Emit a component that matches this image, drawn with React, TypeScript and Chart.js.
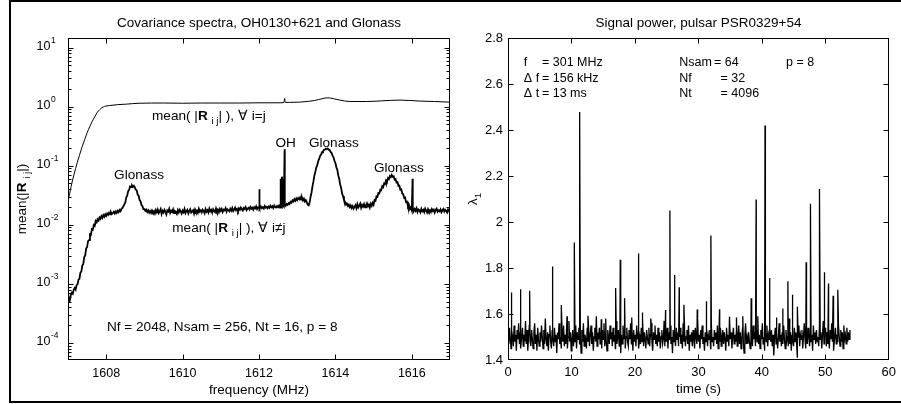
import React, { useEffect, useRef } from 'react';
import { Chart, registerables } from 'chart.js';

Chart.register(...registerables);

const FONT = '"Liberation Sans", Arial, Helvetica, sans-serif';

// ---------------- Left panel: covariance spectra ----------------
const CHANNEL_START_MHZ = 1607;
const CHANNEL_STEP_MHZ = 0.025;

// mean(|R_ij|), i != j  (one value per channel)
const offDiagMean = [
  0.00050, 0.00058, 0.00054, 0.00066, 0.00071, 0.00068, 0.00079, 0.00085, 0.00080, 0.00095,
  0.00098, 0.00118, 0.00122, 0.00155, 0.00162, 0.00204, 0.00218, 0.00285, 0.00301, 0.00395,
  0.0042, 0.0053, 0.0055, 0.0069, 0.0068, 0.0084, 0.0082, 0.0099, 0.0096, 0.0116,
  0.0110, 0.0124, 0.0118, 0.0133, 0.0126, 0.0140, 0.0131, 0.0146, 0.0137, 0.0150,
  0.0141, 0.0155, 0.0147, 0.0160, 0.0150, 0.0163, 0.0152, 0.0158, 0.0166, 0.0155,
  0.0168, 0.0159, 0.0172, 0.0163, 0.0178, 0.0170, 0.0186, 0.0192, 0.0206, 0.0221,
  0.0238, 0.0290, 0.0312, 0.0372, 0.0389, 0.0445, 0.0432, 0.0465, 0.0440, 0.0458,
  0.0428, 0.0392, 0.0381, 0.0322, 0.0310, 0.0262, 0.0248, 0.0214, 0.0206, 0.0183,
  0.0185, 0.0172, 0.0180, 0.0165, 0.0176, 0.0160, 0.0171, 0.0158, 0.0174, 0.0162,
  0.0170, 0.0155, 0.0178, 0.0163, 0.0181, 0.0158, 0.0169, 0.0184, 0.0152, 0.0172,
  0.0161, 0.0179, 0.0166, 0.0150, 0.0175, 0.0168, 0.0187, 0.0159, 0.0173, 0.0164,
  0.0182, 0.0157, 0.0171, 0.0166, 0.0153, 0.0177, 0.0162, 0.0180, 0.0168, 0.0155,
  0.0174, 0.0163, 0.0185, 0.0158, 0.0170, 0.0179, 0.0156, 0.0172, 0.0183, 0.0161,
  0.0168, 0.0176, 0.0154, 0.0181, 0.0165, 0.0172, 0.0159, 0.0186, 0.0167, 0.0175,
  0.0162, 0.0180, 0.0170, 0.0157, 0.0184, 0.0166, 0.0176, 0.0161, 0.0188, 0.0169,
  0.0178, 0.0160, 0.0183, 0.0171, 0.0164, 0.0189, 0.0168, 0.0179, 0.0163, 0.0185,
  0.0172, 0.0186, 0.0165, 0.0180, 0.0175, 0.0191, 0.0167, 0.0183, 0.0176, 0.0169,
  0.0187, 0.0174, 0.0192, 0.0170, 0.0181, 0.0195, 0.0176, 0.0185, 0.0171, 0.0190,
  0.0179, 0.0196, 0.0183, 0.0174, 0.0193, 0.0185, 0.0199, 0.0177, 0.0188, 0.0194,
  0.0182, 0.0201, 0.0187, 0.0195, 0.0180, 0.0198, 0.0190, 0.0205, 0.0184, 0.0197,
  0.0193, 0.0186, 0.0204, 0.0191, 0.0199, 0.0188, 0.0207, 0.0195, 0.0201, 0.0190,
  0.0203, 0.0194, 0.0210, 0.0198, 0.0206, 0.0192, 0.0212, 0.0200, 0.0196, 0.0208,
  0.0199, 0.0211, 0.0195, 0.0214, 0.0202, 0.0217, 0.0205, 0.0220, 0.0209, 0.0225,
  0.0218, 0.0232, 0.0224, 0.0245, 0.0236, 0.0258, 0.0247, 0.0270, 0.0255, 0.0279,
  0.0262, 0.0284, 0.0270, 0.0291, 0.0266, 0.0288, 0.0259, 0.0276, 0.0248, 0.0262,
  0.0242, 0.0218, 0.0213, 0.0238, 0.0296, 0.0352, 0.0447, 0.0541, 0.0680, 0.0788,
  0.0935, 0.1020, 0.1200, 0.1300, 0.1460, 0.1540, 0.1690, 0.1740, 0.1850, 0.1860,
  0.1940, 0.1910, 0.1950, 0.1870, 0.1840, 0.1710, 0.1640, 0.1480, 0.1390, 0.1210,
  0.1110, 0.0940, 0.0850, 0.0690, 0.0600, 0.0480, 0.0420, 0.0340, 0.0305, 0.0262,
  0.0246, 0.0221, 0.0230, 0.0208, 0.0219, 0.0199, 0.0213, 0.0192, 0.0206, 0.0188,
  0.0201, 0.0215, 0.0190, 0.0222, 0.0196, 0.0210, 0.0228, 0.0193, 0.0217, 0.0203,
  0.0224, 0.0198, 0.0212, 0.0231, 0.0205, 0.0219, 0.0196, 0.0226, 0.0209, 0.0235,
  0.0218, 0.0262, 0.0255, 0.0302, 0.0296, 0.0345, 0.0338, 0.0392, 0.0385, 0.0448,
  0.0432, 0.0501, 0.0489, 0.0562, 0.0538, 0.0615, 0.0590, 0.0668, 0.0642, 0.0700,
  0.0648, 0.0661, 0.0582, 0.0594, 0.0520, 0.0530, 0.0455, 0.0460, 0.0392, 0.0398,
  0.0338, 0.0330, 0.0285, 0.0290, 0.0242, 0.0246, 0.0205, 0.0216, 0.0184, 0.0197,
  0.0176, 0.0192, 0.0169, 0.0185, 0.0172, 0.0190, 0.0164, 0.0181, 0.0175, 0.0162,
  0.0186, 0.0170, 0.0179, 0.0163, 0.0188, 0.0174, 0.0160, 0.0183, 0.0168, 0.0177,
  0.0165, 0.0184, 0.0171, 0.0180, 0.0161, 0.0178, 0.0187, 0.0166, 0.0175, 0.0169,
  0.0182, 0.0163, 0.0176, 0.0185, 0.0167, 0.0179, 0.0172, 0.0161, 0.0181, 0.0170,
  0.0174,
];

// narrow-band lines (OH maser and interference) in the i != j spectrum
const offDiagLineFreq = [1612.0, 1612.56, 1612.6, 1612.62, 1612.67, 1616.02];
const offDiagLineValue = [0.04, 0.06, 0.065, 0.055, 0.19, 0.06];

// mean(|R_ij|), i = j
const diagFreq = [
  1607.0, 1607.04, 1607.08, 1607.12, 1607.16, 1607.2, 1607.24, 1607.3, 1607.37, 1607.44,
  1607.5, 1607.57, 1607.63, 1607.7, 1607.76, 1607.83, 1607.89, 1607.96, 1608.08, 1608.3,
  1608.52, 1608.86, 1609.5, 1610.0, 1610.5, 1611.0, 1611.5, 1612.0, 1612.5, 1612.65,
  1612.67, 1612.69, 1612.8, 1613.06, 1613.3, 1613.46, 1613.65, 1613.8, 1613.95, 1614.11,
  1614.38, 1614.82, 1615.2, 1615.69, 1616.21, 1616.6, 1617.0,
];
const diagMean = [
  0.025, 0.033, 0.044, 0.057, 0.072, 0.09, 0.112, 0.15, 0.209, 0.28,
  0.361, 0.46, 0.556, 0.67, 0.79, 0.89, 0.96, 1.01, 1.04, 1.08,
  1.1, 1.14, 1.15, 1.14, 1.15, 1.15, 1.15, 1.16, 1.16, 1.17,
  1.37, 1.18, 1.18, 1.19, 1.23, 1.27, 1.36, 1.41, 1.36, 1.29,
  1.22, 1.22, 1.25, 1.29, 1.24, 1.22, 1.19,
];

const freqTicks = [1608, 1610, 1612, 1614, 1616];
const decadeTicks = [1e-4, 1e-3, 1e-2, 1e-1, 1, 10];
const decadeExponents = ['-4', '-3', '-2', '-1', '0', '1'];

// ---------------- Right panel: pulsar signal power ----------------
const SAMPLE_STEP_S = 0.12;
const lambdaBase = [
  1.52,1.47,1.54,1.49,1.45,1.53,1.50,1.46,1.55,1.48,1.51,1.44,1.53,1.49,1.56,
  1.47,1.52,1.45,1.50,1.54,1.46,1.51,1.48,1.57,1.47,1.53,1.44,1.50,1.55,1.48,
  1.46,1.53,1.49,1.45,1.52,1.56,1.47,1.51,1.44,1.54,1.49,1.46,1.52,1.48,1.55,
  1.50,1.45,1.53,1.47,1.58,1.49,1.46,1.52,1.44,1.51,1.55,1.48,1.45,1.53,1.50,
  1.46,1.54,1.48,1.51,1.43,1.52,1.49,1.56,1.47,1.50,1.45,1.53,1.48,1.55,1.46,
  1.51,1.47,1.54,1.45,1.50,1.57,1.48,1.52,1.44,1.49,1.53,1.46,1.51,1.48,1.55,
  1.45,1.52,1.49,1.54,1.47,1.50,1.43,1.53,1.48,1.56,1.46,1.51,1.49,1.45,1.54,
  1.48,1.53,1.46,1.51,1.55,1.47,1.52,1.44,1.50,1.54,1.48,1.59,1.46,1.52,1.49,
  1.54,1.47,1.50,1.45,1.53,1.49,1.56,1.46,1.51,1.48,1.44,1.53,1.50,1.47,1.55,
  1.49,1.52,1.46,1.54,1.48,1.51,1.45,1.57,1.47,1.50,1.53,1.46,1.52,1.43,1.51,
  1.47,1.55,1.49,1.52,1.45,1.50,1.54,1.48,1.46,1.53,1.49,1.56,1.47,1.51,1.44,
  1.53,1.48,1.51,1.46,1.55,1.49,1.52,1.45,1.50,1.47,1.54,1.48,1.58,1.46,1.52,
  1.49,1.45,1.53,1.50,1.47,1.54,1.46,1.51,1.56,1.48,1.44,1.52,1.49,1.55,1.47,
  1.51,1.46,1.54,1.48,1.52,1.45,1.50,1.53,1.47,1.49,1.57,1.46,1.51,1.48,1.54,
  1.45,1.52,1.49,1.55,1.47,1.50,1.43,1.53,1.48,1.51,1.46,1.54,1.49,1.52,1.46,
  1.50,1.54,1.47,1.51,1.45,1.56,1.48,1.52,1.46,1.50,1.53,1.47,1.55,1.44,1.51,
  1.48,1.52,1.46,1.53,1.49,1.45,1.54,1.50,1.47,1.58,1.48,1.51,1.45,1.53,1.49,
  1.55,1.47,1.50,1.44,1.52,1.48,1.54,1.46,1.51,1.49,1.53,1.45,1.56,1.48,1.50,
  1.46,1.53,1.49,1.52,1.47,1.55,1.45,1.51,1.48,1.54,1.46,1.50,1.53,1.47,1.52,
  1.49,1.44,1.54,1.48,1.51,1.46,1.57,1.49,1.52,1.45,1.50,1.54,1.47,1.51,1.48,
  1.53,1.46,1.50,1.55,1.47,1.52,1.45,1.49,1.54,1.48,1.43,1.51,1.56,1.47,1.50,
  1.47,1.52,1.48,1.45,1.53,1.50,1.46,1.55,1.49,1.52,1.46,1.54,1.48,1.59,1.47,
  1.51,1.45,1.53,1.49,1.56,1.47,1.50,1.44,1.52,1.48,1.55,1.46,1.51,1.49,1.54,
  1.48,1.53,1.46,1.51,1.42,1.50,1.54,1.47,1.52,1.45,1.49,1.56,1.48,1.51,1.46,
  1.52,1.47,1.55,1.49,1.45,1.53,1.48,1.50,1.46,1.58,1.47,1.52,1.44,1.51,1.49,
  1.46,1.54,1.48,1.52,1.47,1.41,1.50,1.55,1.46,1.51,1.49,1.53,1.45,1.50,1.56,
  1.49,1.45,1.52,1.47,1.54,1.50,1.46,1.53,1.48,1.51,1.44,1.55,1.49,1.52,1.47,
  1.53,1.48,1.50,1.46,1.55,1.49,1.52,1.45,1.51,1.57,1.47,1.50,1.54,1.46,1.52,
  1.47,1.51,1.45,1.53,1.49,1.56,1.48,1.52,1.44,1.50,1.54,1.47,1.51,1.48,1.55,
  1.50,1.46,1.53,1.48,1.52,1.45,1.55,1.49,1.51,1.47,1.54,1.48,1.52,1.49,1.53,
];

// individual pulses
const pulseTime = [
  0.52, 1.94, 3.41, 6.98, 8.4, 9.3, 10.45, 11.29, 12.6, 14.7, 15.4, 16.96, 17.69, 18.37,
  19.5, 20.52, 21.15, 22.5, 24.83, 25.51, 26.25, 26.98, 27.72, 29.82, 31.23, 31.97,
  33.33, 34.9, 36.0, 37.0, 38.32, 39.1, 40.5, 41.2, 42.3, 43.3, 44.1, 44.8, 45.6,
  46.98, 47.66, 49.08, 49.82, 50.5, 51.23, 51.97,
];
const pulseLambda = [
  1.694, 1.708, 1.701, 1.807, 1.639, 1.59, 1.911, 2.478, 1.592, 1.577, 1.58, 1.713, 1.836, 1.669,
  1.585, 1.863, 1.607, 1.58, 1.617, 2.05, 1.77, 1.716, 1.64, 1.62, 1.655, 1.941,
  1.621, 1.588, 1.585, 1.59, 1.668, 2.098, 2.42, 1.756, 1.585, 1.624, 1.742, 1.684, 1.631,
  1.825, 2.079, 2.144, 1.781, 1.733, 1.679, 1.705,
];

const timeTicks = [0, 10, 20, 30, 40, 50, 60];
const lambdaTicks = [1.4, 1.6, 1.8, 2, 2.2, 2.4, 2.6, 2.8];

// ---------------- text ----------------
type Seg = [string, '' | 'b' | 'sub'];
type Note = { segs: Seg[]; x: number; y: number; align: 'left' | 'center' };

const MEAN_EQ: Seg[] = [['mean( |', ''], ['R', 'b'], [' ', ''], ['i j', 'sub'], ['| ), \u2200 i=j', '']];
const MEAN_NE: Seg[] = [['mean( |', ''], ['R', 'b'], [' ', ''], ['i j', 'sub'], ['| ), \u2200 i\u2260j', '']];
const LEFT_YTITLE: Seg[] = [['mean(|', ''], ['R', 'b'], [' ', ''], ['i j', 'sub'], ['|)', '']];
const RIGHT_YTITLE: Seg[] = [['\u03bb', ''], ['1', 'sub']];

const leftNotes: Note[] = [
  { segs: [['Glonass', '']], x: 1608.86, y: 0.0698, align: 'center' },
  { segs: [['OH', '']], x: 1612.7, y: 0.244, align: 'center' },
  { segs: [['Glonass', '']], x: 1613.96, y: 0.244, align: 'center' },
  { segs: [['Glonass', '']], x: 1615.66, y: 0.0918, align: 'center' },
  { segs: MEAN_EQ, x: 1609.2, y: 0.689, align: 'left' },
  { segs: MEAN_NE, x: 1609.73, y: 0.00875, align: 'left' },
  { segs: [['Nf = 2048, Nsam = 256, Nt = 16, p = 8', '']], x: 1608.02, y: 1.81e-4, align: 'left' },
];

const rightNotes: Note[] = [
  { segs: [['f', '']], x: 2.5, y: 2.693, align: 'left' },
  { segs: [['= 301 MHz', '']], x: 5.35, y: 2.693, align: 'left' },
  { segs: [['\u0394 f', '']], x: 2.5, y: 2.625, align: 'left' },
  { segs: [['= 156 kHz', '']], x: 5.35, y: 2.625, align: 'left' },
  { segs: [['\u0394 t', '']], x: 2.5, y: 2.558, align: 'left' },
  { segs: [['= 13 ms', '']], x: 5.35, y: 2.558, align: 'left' },
  { segs: [['Nsam', '']], x: 27.0, y: 2.693, align: 'left' },
  { segs: [['= 64', '']], x: 32.45, y: 2.693, align: 'left' },
  { segs: [['Nf', '']], x: 27.0, y: 2.625, align: 'left' },
  { segs: [['= 32', '']], x: 33.5, y: 2.625, align: 'left' },
  { segs: [['Nt', '']], x: 27.0, y: 2.558, align: 'left' },
  { segs: [['= 4096', '']], x: 33.5, y: 2.558, align: 'left' },
  { segs: [['p = 8', '']], x: 43.8, y: 2.693, align: 'left' },
];

// ---------------- helpers ----------------
function segFont(kind: string, size: number) {
  if (kind === 'b') return `bold ${size}px ${FONT}`;
  if (kind === 'sub') return `${size * 0.72}px ${FONT}`;
  return `${size}px ${FONT}`;
}

function drawRich(ctx: CanvasRenderingContext2D, segs: Seg[], x: number, y: number, size: number, align: string) {
  let w = 0;
  const widths: number[] = [];
  for (const [t, k] of segs) {
    ctx.font = segFont(k, size);
    const m = ctx.measureText(t).width;
    widths.push(m);
    w += m;
  }
  let cx = align === 'center' ? x - w / 2 : align === 'right' ? x - w : x;
  ctx.textAlign = 'left';
  ctx.textBaseline = 'middle';
  segs.forEach(([t, k], i) => {
    ctx.font = segFont(k, size);
    ctx.fillText(t, cx, y + (k === 'sub' ? size * 0.4 : 0));
    cx += widths[i];
  });
}

function mergeSeries(start: number, step: number, vals: number[], xs: number[], ys: number[]) {
  const pts = vals.map((v, i) => ({ x: start + i * step, y: v }));
  xs.forEach((x, i) => pts.push({ x, y: ys[i] }));
  pts.sort((a, b) => a.x - b.x);
  return pts;
}

const deco = {
  id: 'deco',
  afterDraw(chart: any, _args: any, o: any) {
    const { ctx, chartArea: a } = chart;
    const xs = chart.scales.x;
    const ys = chart.scales.y;
    const L = Math.round(a.left) + 0.5;
    const R = Math.round(a.right) - 0.5;
    const T = Math.round(a.top) + 0.5;
    const B = Math.round(a.bottom) - 0.5;
    ctx.save();
    ctx.strokeStyle = '#000';
    ctx.lineWidth = 1;
    ctx.strokeRect(L, T, R - L, B - T);
    ctx.beginPath();
    for (const v of o.xTicks) {
      const p = Math.round(xs.getPixelForValue(v)) + 0.5;
      if (p <= L + 1 || p >= R - 1) continue;
      ctx.moveTo(p, B); ctx.lineTo(p, B - 5);
      ctx.moveTo(p, T); ctx.lineTo(p, T + 5);
    }
    for (const v of o.yTicks) {
      const p = Math.round(ys.getPixelForValue(v)) + 0.5;
      if (p <= T + 1 || p >= B - 1) continue;
      ctx.moveTo(L, p); ctx.lineTo(L + 5, p);
      ctx.moveTo(R, p); ctx.lineTo(R - 5, p);
    }
    if (o.logMinor) {
      for (const d of o.yTicks) {
        for (let m = 2; m <= 9; m++) {
          const val = d * m;
          if (val > ys.max) continue;
          const p = Math.round(ys.getPixelForValue(val)) + 0.5;
          if (p <= T + 1 || p >= B - 1) continue;
          ctx.moveTo(L, p); ctx.lineTo(L + 3, p);
          ctx.moveTo(R, p); ctx.lineTo(R - 3, p);
        }
      }
      for (let m = 6; m <= 9; m++) {
        const val = o.yTicks[0] / 10 * m;
        if (val < ys.min) continue;
        const p = Math.round(ys.getPixelForValue(val)) + 0.5;
        ctx.moveTo(L, p); ctx.lineTo(L + 3, p);
        ctx.moveTo(R, p); ctx.lineTo(R - 3, p);
      }
    }
    ctx.stroke();

    ctx.fillStyle = '#000';
    // log tick labels
    if (o.expLabels) {
      o.yTicks.forEach((v: number, i: number) => {
        const p = ys.getPixelForValue(v);
        ctx.font = `12.5px ${FONT}`;
        ctx.textAlign = 'right';
        ctx.textBaseline = 'middle';
        ctx.fillText('10', a.left - 17.5, p - 1);
        ctx.font = `8.5px ${FONT}`;
        ctx.textAlign = 'left';
        ctx.fillText(o.expLabels[i], a.left - 17, p - 7);
      });
    }
    // title
    ctx.font = `13.5px ${FONT}`;
    ctx.textAlign = 'center';
    ctx.textBaseline = 'middle';
    ctx.fillText(o.title, (a.left + a.right) / 2, a.top - 15);
    // x title
    ctx.fillText(o.xTitle, (a.left + a.right) / 2, a.bottom + o.xTitleGap);
    // y title
    ctx.save();
    ctx.translate(a.left - o.yTitleGap, (a.top + a.bottom) / 2);
    ctx.rotate(-Math.PI / 2);
    drawRich(ctx, o.yTitle, 0, 0, 13.5, 'center');
    ctx.restore();
    // notes
    for (const n of o.notes) {
      drawRich(ctx, n.segs, xs.getPixelForValue(n.x), ys.getPixelForValue(n.y), o.noteSize, n.align);
    }
    ctx.restore();
  },
};

function leftConfig(): any {
  return {
    type: 'line',
    data: {
      datasets: [
        {
          data: mergeSeries(CHANNEL_START_MHZ, CHANNEL_STEP_MHZ, offDiagMean, offDiagLineFreq, offDiagLineValue),
          borderColor: '#000', borderWidth: 1.8, pointRadius: 0, tension: 0,
        },
        {
          data: diagFreq.map((f, i) => ({ x: f, y: diagMean[i] })),
          borderColor: '#000', borderWidth: 1, pointRadius: 0, cubicInterpolationMode: 'monotone',
        },
      ],
    },
    options: {
      responsive: false,
      animation: false,
      events: [],
      layout: { padding: { top: 38, right: 5, left: 0, bottom: 0 } },
      plugins: {
        legend: { display: false },
        tooltip: { enabled: false },
        title: { display: false },
        deco: {
          xTicks: freqTicks, yTicks: decadeTicks, logMinor: true, expLabels: decadeExponents,
          title: 'Covariance spectra, OH0130+621 and Glonass',
          xTitle: 'frequency (MHz)', xTitleGap: 30.5,
          yTitle: LEFT_YTITLE, yTitleGap: 46,
          notes: leftNotes, noteSize: 13.6,
        },
      },
      scales: {
        x: {
          type: 'linear', min: 1607, max: 1617,
          afterBuildTicks: (s: any) => { s.ticks = freqTicks.map((v) => ({ value: v })); },
          afterFit: (s: any) => { s.height = 44; },
          grid: { display: false, drawTicks: false },
          border: { display: false },
          ticks: { color: '#000', font: { family: FONT, size: 12.5 }, padding: 6, maxRotation: 0, autoSkip: false, callback: (v: any) => String(v) },
        },
        y: {
          type: 'logarithmic', min: 5.14e-5, max: 14.5,
          afterBuildTicks: (s: any) => { s.ticks = decadeTicks.map((v) => ({ value: v })); },
          afterFit: (s: any) => { s.width = 68; },
          grid: { display: false, drawTicks: false },
          border: { display: false },
          ticks: { display: false },
        },
      },
    },
    plugins: [deco],
  };
}

function rightConfig(): any {
  return {
    type: 'line',
    data: {
      datasets: [
        {
          data: mergeSeries(0, SAMPLE_STEP_S, lambdaBase, pulseTime, pulseLambda),
          borderColor: '#000', borderWidth: 1.3, pointRadius: 0, tension: 0,
        },
      ],
    },
    options: {
      responsive: false,
      animation: false,
      events: [],
      layout: { padding: { top: 38, right: 10, left: 0, bottom: 0 } },
      plugins: {
        legend: { display: false },
        tooltip: { enabled: false },
        title: { display: false },
        deco: {
          xTicks: timeTicks, yTicks: lambdaTicks, logMinor: false,
          title: 'Signal power, pulsar PSR0329+54',
          xTitle: 'time (s)', xTitleGap: 29,
          yTitle: RIGHT_YTITLE, yTitleGap: 35,
          notes: rightNotes, noteSize: 12.5,
        },
      },
      scales: {
        x: {
          type: 'linear', min: 0, max: 60,
          afterBuildTicks: (s: any) => { s.ticks = timeTicks.map((v) => ({ value: v })); },
          afterFit: (s: any) => { s.height = 44; },
          grid: { display: false, drawTicks: false },
          border: { display: false },
          ticks: { color: '#000', font: { family: FONT, size: 13 }, padding: 5, maxRotation: 0, autoSkip: false, callback: (v: any) => String(v) },
        },
        y: {
          type: 'linear', min: 1.4, max: 2.8,
          afterBuildTicks: (s: any) => { s.ticks = lambdaTicks.map((v) => ({ value: v })); },
          afterFit: (s: any) => { s.width = 53; },
          grid: { display: false, drawTicks: false },
          border: { display: false },
          ticks: { color: '#000', font: { family: FONT, size: 13 }, padding: 5, autoSkip: false, callback: (v: any) => String(v) },
        },
      },
    },
    plugins: [deco],
  };
}

export default function App() {
  const leftRef = useRef<HTMLCanvasElement>(null);
  const rightRef = useRef<HTMLCanvasElement>(null);
  useEffect(() => {
    const c1 = new Chart(leftRef.current as HTMLCanvasElement, leftConfig());
    const c2 = new Chart(rightRef.current as HTMLCanvasElement, rightConfig());
    return () => { c1.destroy(); c2.destroy(); };
  }, []);
  return (
    <div style={{ position: 'absolute', left: 0, top: 0, width: 901, height: 404, overflow: 'hidden', background: '#fff' }}>
      <div style={{ position: 'absolute', left: 9, top: 0, width: 890, height: 399, borderLeft: '2px solid #000', borderTop: '2px solid #000', borderBottom: '2px solid #000' }} />
      <canvas ref={leftRef} width={455} height={404} style={{ position: 'absolute', left: 0, top: 0, width: 455, height: 404 }} />
      <canvas ref={rightRef} width={446} height={404} style={{ position: 'absolute', left: 455, top: 0, width: 446, height: 404 }} />
    </div>
  );
}
